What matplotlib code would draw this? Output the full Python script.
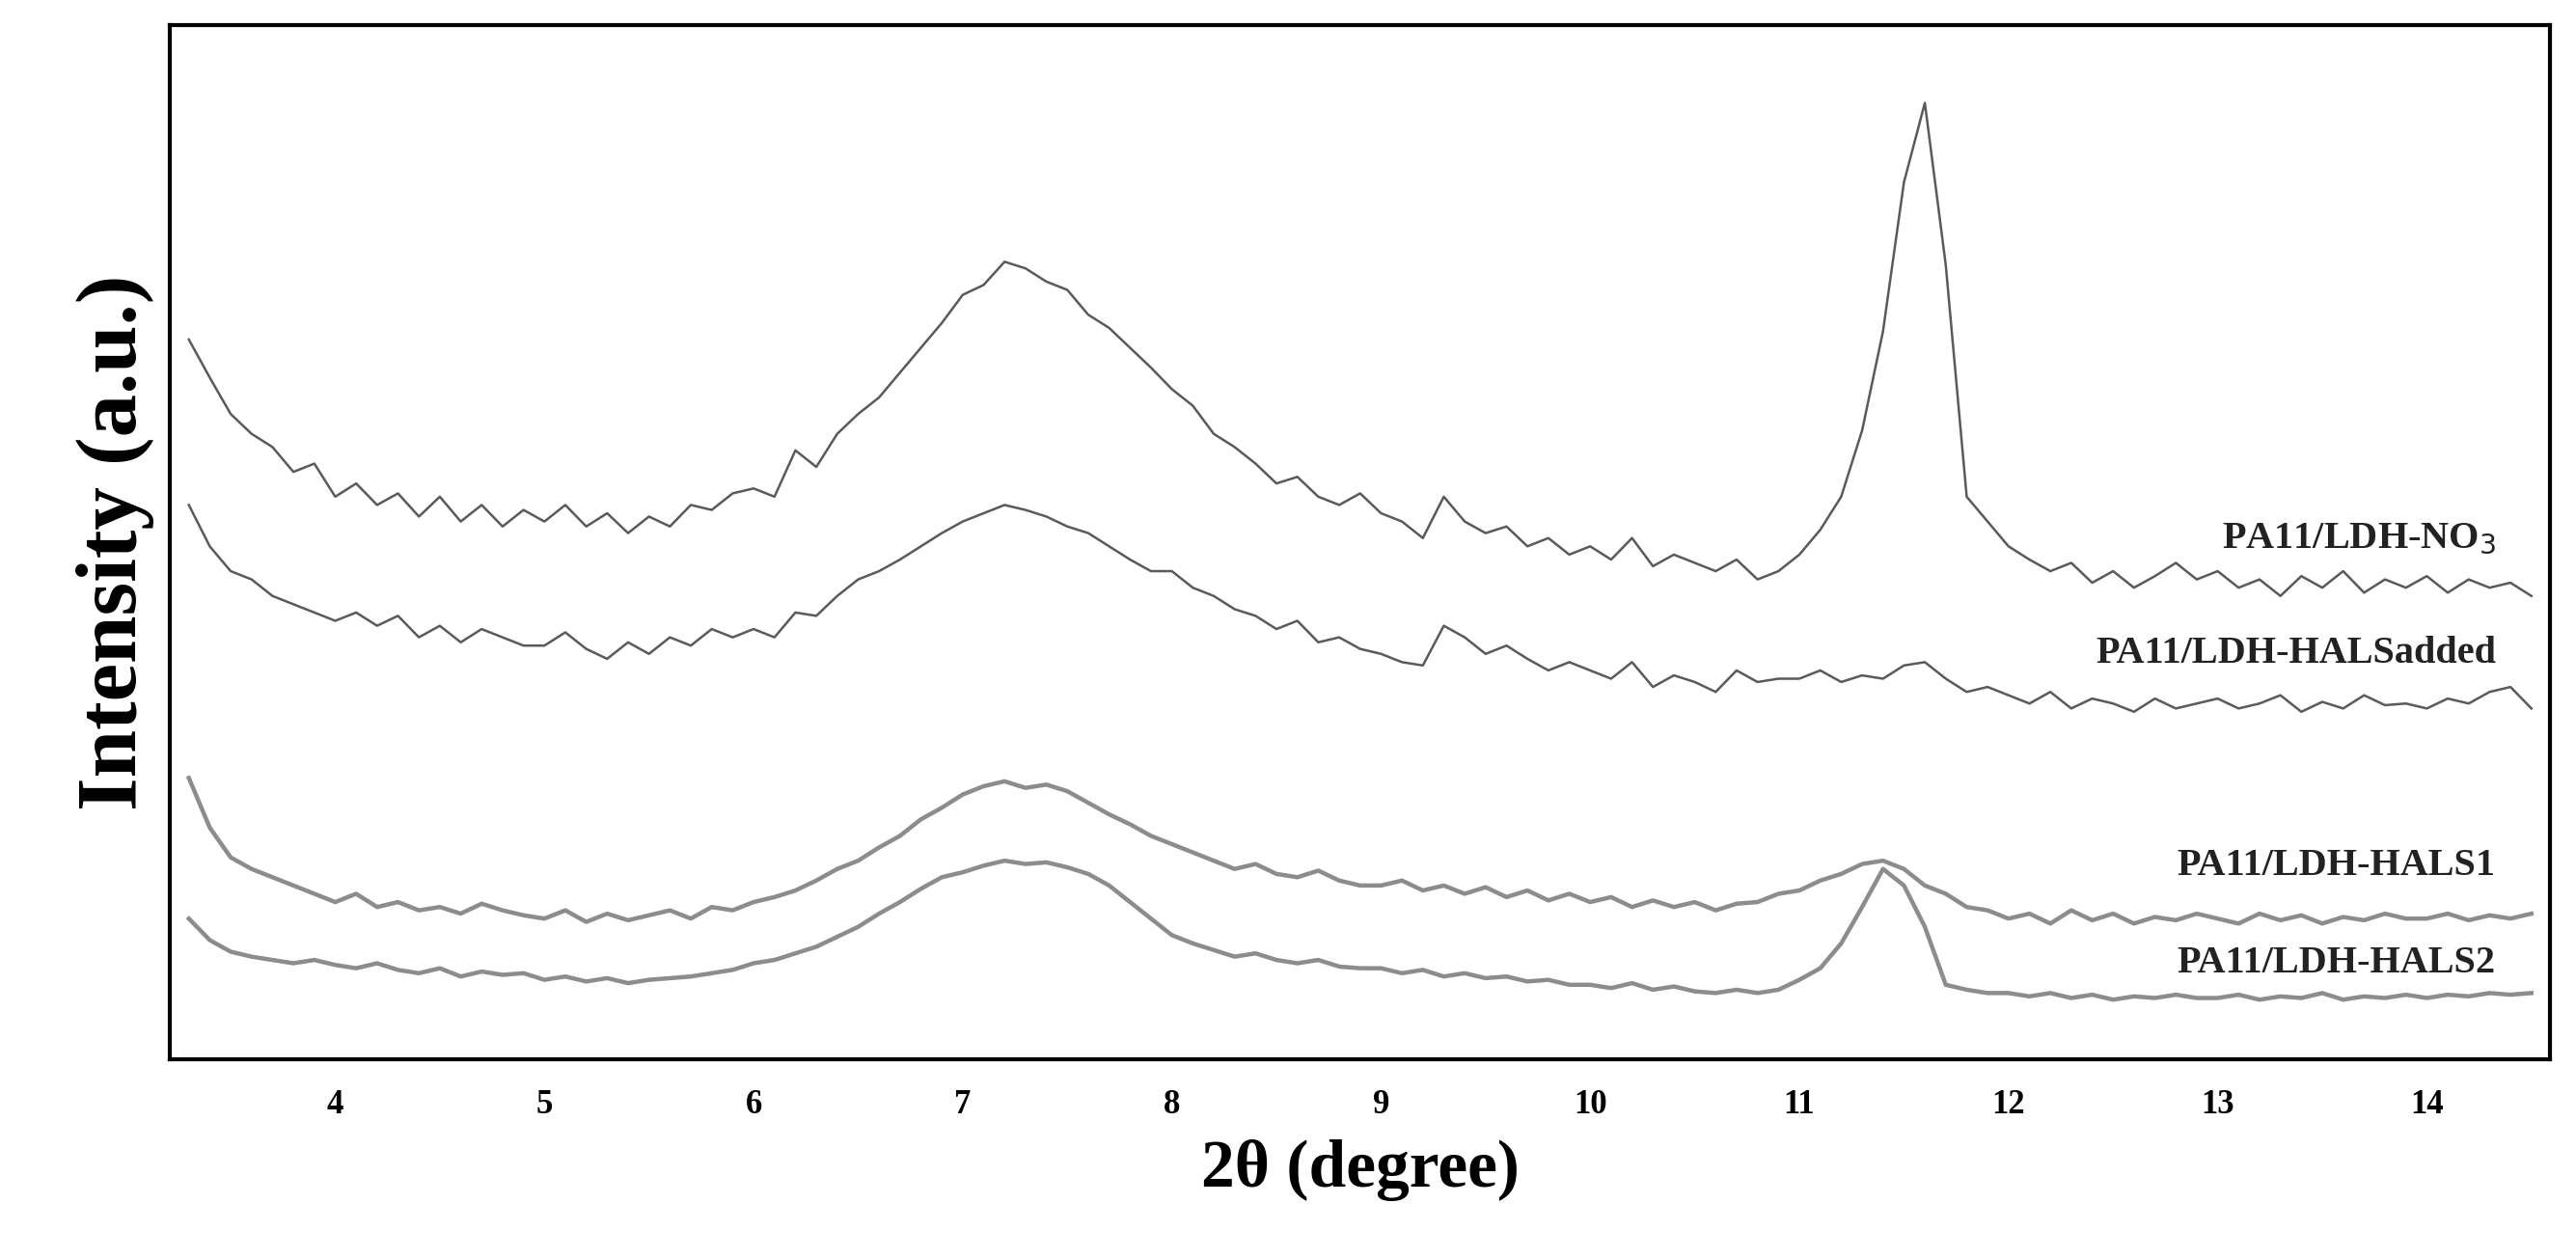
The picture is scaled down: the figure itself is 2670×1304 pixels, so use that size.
import numpy as np
import matplotlib
matplotlib.use("Agg")
import matplotlib.pyplot as plt

# 2-theta grid, 0.1 degree steps
two_theta = np.round(np.arange(3.3, 14.51, 0.1), 1)

# intensities (pixel depth from top, axis inverted)
no3 = [205, 228, 250, 262, 270, 285, 280,
       300, 292, 305, 298, 312, 300, 315, 305, 318, 308,
       315, 305, 318, 310, 322, 312, 318, 305, 308, 298,
       295, 300, 272, 282, 262, 250, 240, 225, 210, 195,
       178, 172, 158, 162, 170, 175, 190, 198, 210, 222,
       235, 245, 262, 270, 280, 292, 288, 300, 305, 298,
       310, 315, 325, 300, 315, 322, 318, 330, 325, 335,
       330, 338, 325, 342, 335, 340, 345, 338, 350, 345,
       335, 320, 300, 260, 200, 110, 62, 160, 300, 315,
       330, 338, 345, 340, 352, 345, 355, 348, 340, 350,
       345, 355, 350, 360, 348, 355, 345, 358, 350, 355,
       348, 358, 350, 355, 352, 360]
hals_added = [305, 330, 345, 350, 360, 365, 370,
              375, 370, 378, 372, 385, 378, 388, 380, 385, 390,
              390, 382, 392, 398, 388, 395, 385, 390, 380, 385,
              380, 385, 370, 372, 360, 350, 345, 338, 330, 322,
              315, 310, 305, 308, 312, 318, 322, 330, 338, 345,
              345, 355, 360, 368, 372, 380, 375, 388, 385, 392,
              395, 400, 402, 378, 385, 395, 390, 398, 405, 400,
              405, 410, 400, 415, 408, 412, 418, 405, 412, 410,
              410, 405, 412, 408, 410, 402, 400, 410, 418, 415,
              420, 425, 418, 428, 422, 425, 430, 422, 428, 425,
              422, 428, 425, 420, 430, 424, 428, 420, 426, 425,
              428, 422, 425, 418, 415, 428]
hals1 = [470, 500, 518, 525, 530, 535, 540,
         545, 540, 548, 545, 550, 548, 552, 546, 550, 553,
         555, 550, 557, 552, 556, 553, 550, 555, 548, 550,
         545, 542, 538, 532, 525, 520, 512, 505, 495, 488,
         480, 475, 472, 476, 474, 478, 485, 492, 498, 505,
         510, 515, 520, 525, 522, 528, 530, 526, 532, 535,
         535, 532, 538, 535, 540, 536, 542, 538, 544, 540,
         545, 542, 548, 544, 548, 545, 550, 546, 545, 540,
         538, 532, 528, 522, 520, 525, 535, 540, 548, 550,
         555, 552, 558, 550, 556, 552, 558, 554, 556, 552,
         555, 558, 552, 556, 553, 558, 554, 556, 552, 555,
         555, 552, 556, 553, 555, 552]
hals2 = [555, 568, 575, 578, 580, 582, 580,
         583, 585, 582, 586, 588, 585, 590, 587, 589, 588,
         592, 590, 593, 591, 594, 592, 591, 590, 588, 586,
         582, 580, 576, 572, 566, 560, 552, 545, 537, 530,
         527, 523, 520, 522, 521, 524, 528, 535, 545, 555,
         565, 570, 574, 578, 576, 580, 582, 580, 584, 585,
         585, 588, 586, 590, 588, 591, 590, 593, 592, 595,
         595, 597, 594, 598, 596, 599, 600, 598, 600, 598,
         592, 585, 570, 548, 525, 535, 560, 595, 598, 600,
         600, 602, 600, 603, 601, 604, 602, 603, 601, 603,
         603, 601, 604, 602, 603, 600, 604, 602, 603, 601,
         603, 601, 602, 600, 601, 600]

labels = ["PA11/LDH-NO$_3$", "PA11/LDH-HALSadded", "PA11/LDH-HALS1", "PA11/LDH-HALS2"]
label_y = [325, 395, 523, 582]
ticks = list(range(4, 15))

SERIF = "Liberation Serif"

fig = plt.figure(figsize=(26.7, 13.04), dpi=100)
ax = fig.add_axes([0.066, 0.158, 0.924, 0.822])

ax.plot(two_theta, no3, color="#5a5a5a", lw=1.8)
ax.plot(two_theta, hals_added, color="#5a5a5a", lw=1.8)
ax.plot(two_theta, hals1, color="#808080", lw=3.2, alpha=0.9)
ax.plot(two_theta, hals2, color="#808080", lw=3.2, alpha=0.9)

for lab, yy in zip(labels, label_y):
    ax.text(14.33, yy, lab, ha="right", va="center", fontsize=29,
            fontweight="bold", family=SERIF, color="#222222")

ax.set_xlim(3.21, 14.59)
ax.set_ylim(640, 15)
ax.set_yticks([])
ax.set_xticks(ticks)
ax.set_xticklabels([str(t) for t in ticks], fontsize=25, fontweight="bold",
                   family=SERIF)
ax.tick_params(axis="x", length=0, pad=22)
for sp in ax.spines.values():
    sp.set_linewidth(3)

ax.set_xlabel("2θ (degree)", fontsize=50, fontweight="bold", family=SERIF,
              labelpad=14)
ax.set_ylabel("Intensity (a.u.)", fontsize=64, fontweight="bold", family=SERIF,
              labelpad=12)

fig.savefig("out.png", dpi=100, facecolor="white")
